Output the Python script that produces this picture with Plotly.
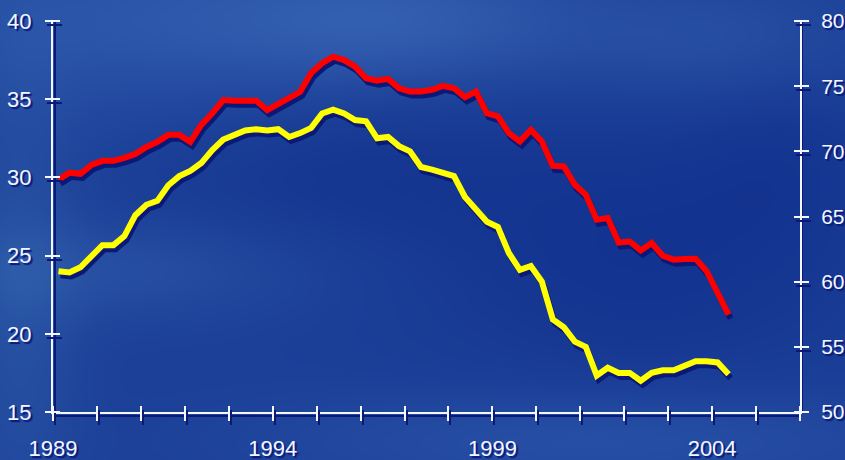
import base64
import struct
import zlib

import numpy as np
import plotly.graph_objects as go

# ---- data -----------------------------------------------------------------
# quarterly observations, 1989 Q1 .. 2004 Q2 (plotted at mid-quarter)
first_quarter = 1989.125
n_quarters = 62
quarters = [first_quarter + 0.25 * i for i in range(n_quarters)]

# left scale
red_values = [
    29.85, 30.3, 30.23, 30.8, 31.06, 31.06, 31.25, 31.5, 31.95, 32.27,
    32.72, 32.72, 32.27, 33.36, 34.1, 34.95, 34.9, 34.9, 34.9, 34.3,
    34.7, 35.0, 35.47, 36.68, 37.3, 37.72, 37.5, 37.08, 36.34, 36.19,
    36.3, 35.7, 35.49, 35.49, 35.6, 35.85, 35.7, 35.13, 35.49, 34.1,
    33.9, 32.83, 32.3, 33.04, 32.3, 30.74, 30.7, 29.53, 28.89, 27.29,
    27.4, 25.84, 25.9, 25.33, 25.8, 24.99, 24.74, 24.78, 24.8, 24.0,
    22.7, 21.23,
]

# right scale
yellow_values = [
    60.8, 60.7, 61.1, 61.9, 62.8, 62.8, 63.5, 65.1, 65.9, 66.2,
    67.4, 68.1, 68.5, 69.1, 70.1, 70.9, 71.3, 71.6, 71.7, 71.6,
    71.7, 71.1, 71.4, 71.8, 72.9, 73.2, 72.9, 72.4, 72.3, 71.0,
    71.1, 70.4, 70.0, 68.8, 68.6, 68.4, 68.1, 66.5, 65.5, 64.6,
    64.2, 62.2, 60.9, 61.2, 60.0, 57.1, 56.5, 55.4, 55.0, 52.8,
    53.4, 53.0, 53.0, 52.4, 53.0, 53.2, 53.2, 53.6, 53.9, 53.9,
    53.8, 52.9,
]

year_ticks = list(range(1989, 2007))
year_labels = [1989, 1994, 1999, 2004]
left_ticks = [15, 20, 25, 30, 35, 40]
right_ticks = [50, 55, 60, 65, 70, 75, 80]

# ---- geometry & style -------------------------------------------------------
W, H = 845, 460
ML, MR, MT, MB = 53, 42, 21, 44
PW = W - ML - MR
PH = H - MT - MB
XD = 747 / PW          # x domain end (right axis position)
YD0 = 4 / PH           # y domain start (bottom axis position)
X0, X1 = 1989, 2006
L0, L1 = 15, 40
R0, R1 = 50, 80
SHX, SHY = 2, 4        # drop-shadow offset in px
TICK_IN = 7            # tick length inside the plot area
TICK_LEN = 15

dx = SHX * (X1 - X0) / (XD * PW)
dyl = SHY * (L1 - L0) / ((1 - YD0) * PH)
dyr = SHY * (R1 - R0) / ((1 - YD0) * PH)

WHITE = "#f4f7ff"
SHADOW = "#0a1878"
RED = "#ff0000"
YELLOW = "#ffff00"
FONT = "Liberation Sans, Arial, sans-serif"
tick_font = dict(family=FONT, size=22, color=WHITE, shadow=f"2px 2px 1px {SHADOW}")
right_font = dict(tick_font, size=21)


def background():
    """Soft blue backdrop with light and dark cloud patches."""
    yy, xx = np.mgrid[0:H, 0:W].astype(float)
    img = np.zeros((H, W, 3)) + np.array([28, 64, 152], float)
    patches = [
        (120, 20, 170, 70, (14, 20, 16)),
        (400, 20, 130, 45, (20, 26, 20)),
        (720, 40, 110, 45, (10, 14, 10)),
        (110, 270, 140, 35, (10, 14, 10)),
        (20, 300, 40, 160, (10, 16, 10)),
        (600, 440, 220, 35, (12, 16, 14)),
        (330, 170, 130, 60, (-6, -8, -6)),
        (640, 250, 160, 100, (-9, -12, -8)),
        (790, 150, 70, 70, (-4, -6, -4)),
    ]
    for cx, cy, sx, sy, d in patches:
        g = np.exp(-(((xx - cx) / sx) ** 2 + ((yy - cy) / sy) ** 2) / 2)
        img += g[..., None] * np.array(d, float)
    return np.clip(img, 0, 255).astype(np.uint8)


def png_uri(rgb):
    h, w, _ = rgb.shape
    raw = b"".join(b"\x00" + rgb[r].tobytes() for r in range(h))

    def chunk(tag, data):
        body = tag + data
        return struct.pack(">I", len(data)) + body + struct.pack(">I", zlib.crc32(body) & 0xFFFFFFFF)

    png = (b"\x89PNG\r\n\x1a\n"
           + chunk(b"IHDR", struct.pack(">IIBBBBB", w, h, 8, 2, 0, 0, 0))
           + chunk(b"IDAT", zlib.compress(raw, 9))
           + chunk(b"IEND", b""))
    return "data:image/png;base64," + base64.b64encode(png).decode()


# ---- traces -----------------------------------------------------------------
fig = go.Figure()
line_w = 6

# shadows first (drawn underneath)
fig.add_trace(go.Scatter(x=quarters, y=red_values, mode="lines", xaxis="x", yaxis="y",
                         line=dict(color=SHADOW, width=line_w), hoverinfo="skip", showlegend=False))
fig.add_trace(go.Scatter(x=quarters, y=yellow_values, mode="lines", xaxis="x", yaxis="y2",
                         line=dict(color=SHADOW, width=line_w), hoverinfo="skip", showlegend=False))
# main series
fig.add_trace(go.Scatter(x=quarters, y=red_values, mode="lines", xaxis="x2", yaxis="y3",
                         line=dict(color=RED, width=line_w), showlegend=False))
fig.add_trace(go.Scatter(x=quarters, y=yellow_values, mode="lines", xaxis="x2", yaxis="y4",
                         line=dict(color=YELLOW, width=line_w), showlegend=False))
# empty traces that attach the tick axes to subplots
for xa, ya in [("x3", "y5"), ("x3", "y7"), ("x4", "y6"), ("x4", "y8")]:
    fig.add_trace(go.Scatter(x=[], y=[], xaxis=xa, yaxis=ya, showlegend=False, hoverinfo="skip"))

plain = dict(showgrid=False, zeroline=False, fixedrange=True, automargin=False)
no_ticks = dict(ticks="", showticklabels=False)


def ticks_axis(color, vals, text=None, labels=True, standoff=6, font=tick_font):
    d = dict(ticks="outside", ticklen=TICK_LEN, tickwidth=2, tickcolor=color,
             tickvals=vals, showline=False, showticklabels=labels)
    if labels:
        d.update(ticktext=text if text is not None else [str(v) for v in vals],
                 tickfont=font, ticklabelstandoff=standoff)
    return d


x_text = [str(y) if y in year_labels else "" for y in year_ticks]

fig.update_layout(
    width=W, height=H,
    margin=dict(l=ML, r=MR, t=MT, b=MB, pad=0, autoexpand=False),
    paper_bgcolor="#1c409a",
    plot_bgcolor="rgba(0,0,0,0)",
    showlegend=False,
    # shadow axes (shifted ranges carry the drop shadows)
    xaxis=dict(domain=[0, XD], range=[X0 - dx, X1 - dx], anchor="free", position=0,
               showline=True, linecolor=SHADOW, linewidth=2, **no_ticks, **plain),
    yaxis=dict(domain=[YD0, 1], range=[L0 + dyl, L1 + dyl], anchor="free", position=SHX / PW,
               showline=True, linecolor=SHADOW, linewidth=2, **no_ticks, **plain),
    yaxis2=dict(overlaying="y", side="right", range=[R0 + dyr, R1 + dyr], anchor="free",
                position=XD + SHX / PW, showline=True, linecolor=SHADOW, linewidth=2,
                **no_ticks, **plain),
    # main axes
    xaxis2=dict(overlaying="x", range=[X0, X1], anchor="y3",
                showline=True, linecolor=WHITE, linewidth=2, **no_ticks, **plain),
    yaxis3=dict(overlaying="y", range=[L0, L1], anchor="x2",
                showline=True, linecolor=WHITE, linewidth=2, **no_ticks, **plain),
    yaxis4=dict(overlaying="y", side="right", range=[R0, R1], anchor="x2",
                showline=True, linecolor=WHITE, linewidth=2, **no_ticks, **plain),
    # tick marks crossing the axis lines (shadow + white)
    xaxis3=dict(overlaying="x", range=[X0 - dx, X1 - dx], anchor="free",
                position=YD0 + (TICK_IN - SHY) / PH, **ticks_axis(SHADOW, year_ticks, labels=False), **plain),
    xaxis4=dict(overlaying="x", range=[X0, X1], anchor="free", position=YD0 + TICK_IN / PH,
                **ticks_axis(WHITE, year_ticks, x_text, standoff=9), **plain),
    yaxis5=dict(overlaying="y", range=[L0 + dyl, L1 + dyl], anchor="free",
                position=(TICK_IN + SHX) / PW, **ticks_axis(SHADOW, left_ticks, labels=False), **plain),
    yaxis6=dict(overlaying="y", range=[L0, L1], anchor="free", position=TICK_IN / PW,
                **ticks_axis(WHITE, left_ticks, standoff=9), **plain),
    yaxis7=dict(overlaying="y", side="right", range=[R0 + dyr, R1 + dyr], anchor="free",
                position=XD - (TICK_IN - SHX) / PW, **ticks_axis(SHADOW, right_ticks, labels=False), **plain),
    yaxis8=dict(overlaying="y", side="right", range=[R0, R1], anchor="free",
                position=XD - TICK_IN / PW,
                **ticks_axis(WHITE, right_ticks, standoff=8, font=right_font), **plain),
    images=[dict(source=png_uri(background()), xref="paper", yref="paper",
                 x=-ML / PW, y=1 + MT / PH, sizex=W / PW, sizey=H / PH,
                 xanchor="left", yanchor="top", sizing="stretch", layer="below")],
)

fig.write_html("out.html", config={"displayModeBar": False})
